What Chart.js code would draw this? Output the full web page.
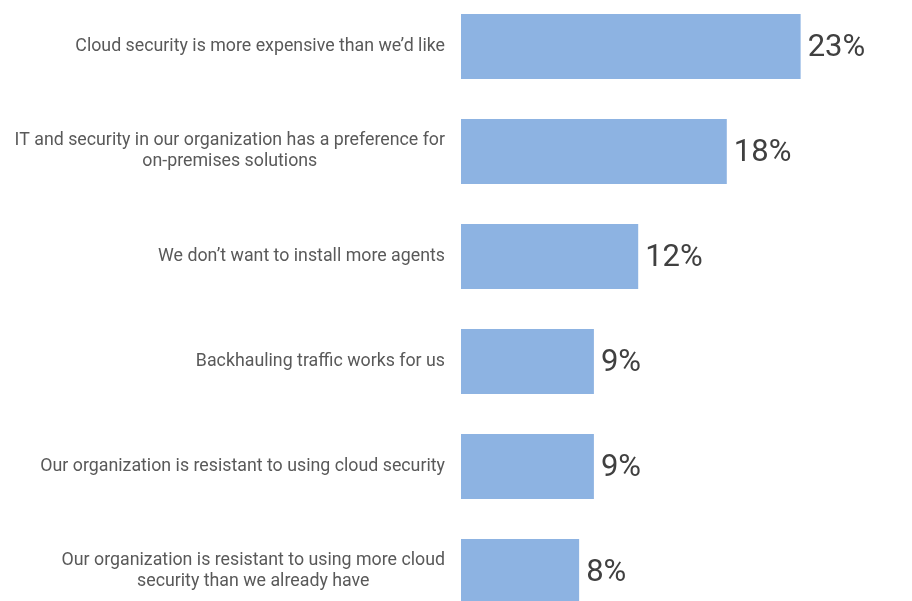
<!DOCTYPE html>
<html>
<head>
<meta charset="utf-8">
<script src="https://cdn.jsdelivr.net/npm/chart.js@4/dist/chart.umd.min.js"></script>
<style>
  html, body { margin: 0; padding: 0; background: #fff; overflow: hidden; }
  #wrap { position: absolute; left: 0; top: -6px; width: 912px; height: 630px; }
</style>
</head>
<body>
<div id="wrap"><canvas id="reasons"></canvas></div>
<script>
// each reason is a list of lines, wrapped the way the slide wraps them
const reasons = [
    ['Cloud security is more expensive than we\u2019d like'],
    ['IT and security in our organization has a preference for', 'on-premises solutions'],
    ['We don\u2019t want to install more agents'],
    ['Backhauling traffic works for us'],
    ['Our organization is resistant to using cloud security'],
    ['Our organization is resistant to using more cloud', 'security than we already have'],
];
const shares = [23, 18, 12, 9, 9, 8];

const LABEL_FONT = '17.8px Roboto, "Noto Sans", sans-serif';
const VALUE_FONT = '31px Roboto, "Noto Sans", sans-serif';

// category text on the left: the widest line sits flush right, other lines centre under it
const reasonLabels = {
    id: 'reasonLabels',
    afterDraw(chart) {
        const { ctx } = chart;
        const yScale = chart.scales.y;
        const right = chart.chartArea.left - 16;
        const lineH = 21;
        ctx.save();
        ctx.font = LABEL_FONT;
        ctx.fillStyle = '#595959';
        ctx.textAlign = 'center';
        ctx.textBaseline = 'middle';
        reasons.forEach((lines, i) => {
            const widest = Math.max(...lines.map((l) => ctx.measureText(l).width));
            const cx = right - widest / 2;
            const cy = yScale.getPixelForValue(i);
            const top = cy - (lines.length - 1) * lineH / 2;
            lines.forEach((l, j) => ctx.fillText(l, cx, top + j * lineH));
        });
        ctx.restore();
    },
};

// percentage printed just past the end of each bar
const shareLabels = {
    id: 'shareLabels',
    afterDatasetsDraw(chart) {
        const { ctx } = chart;
        const meta = chart.getDatasetMeta(0);
        ctx.save();
        ctx.font = VALUE_FONT;
        ctx.fillStyle = '#404040';
        ctx.textAlign = 'left';
        ctx.textBaseline = 'middle';
        meta.data.forEach((bar, i) => {
            ctx.fillText(shares[i] + '%', bar.x + 7, bar.y + 2);
        });
        ctx.restore();
    },
};

new Chart(document.getElementById('reasons'), {
    type: 'bar',
    data: {
        labels: reasons,
        datasets: [{
            data: shares,
            backgroundColor: '#8db3e2',
            borderWidth: 0,
            barPercentage: 0.62,
            categoryPercentage: 1,
        }],
    },
    options: {
        indexAxis: 'y',
        responsive: true,
        maintainAspectRatio: false,
        animation: false,
        layout: { padding: { left: 0, right: 8, top: 0, bottom: 0 } },
        plugins: {
            legend: { display: false },
            tooltip: { enabled: false },
        },
        scales: {
            x: {
                display: false,
                min: 0,
                max: 30,
            },
            y: {
                grid: { display: false },
                border: { display: false },
                ticks: { display: false },
                afterFit(scale) {
                    scale.width = 461;
                },
            },
        },
    },
    plugins: [reasonLabels, shareLabels],
});
</script>
</body>
</html>
